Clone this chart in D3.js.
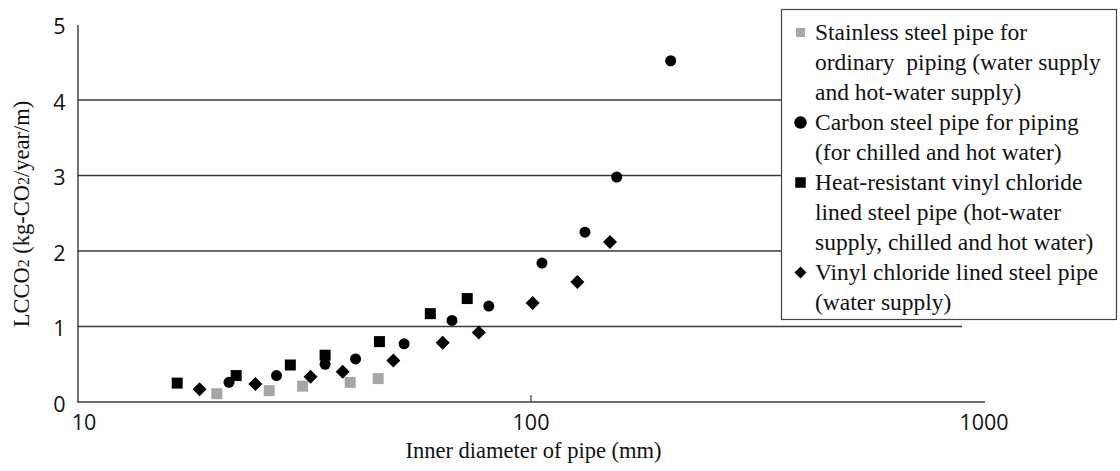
<!DOCTYPE html>
<html>
<head>
<meta charset="utf-8">
<script src="https://cdn.jsdelivr.net/npm/d3@7"></script>
<style>
  body { margin: 0; background: #fff; }
  svg { display: block; }
</style>
</head>
<body>
<div id="chart"></div>
<script>
// tick values
const xTicks = [10, 100, 1000];
const yTicks = [0, 1, 2, 3, 4, 5];

// inner diameter (mm) / LCCO2 (kg-CO2/year/m)
const stainlessDiameter = [20.3, 26.5, 31.4, 40.0, 46.1];
const stainlessLCCO2 = [0.11, 0.15, 0.21, 0.26, 0.31];

const carbonDiameter = [21.6, 27.5, 35.2, 41.1, 52.6, 67.1, 80.9, 106.0, 131.9, 155.0, 203.9];
const carbonLCCO2 = [0.26, 0.35, 0.50, 0.57, 0.77, 1.08, 1.27, 1.84, 2.25, 2.98, 4.52];

const heatDiameter = [16.6, 22.4, 29.5, 35.2, 46.4, 60.1, 72.5];
const heatLCCO2 = [0.25, 0.35, 0.49, 0.62, 0.80, 1.17, 1.37];

const vinylDiameter = [18.6, 24.7, 32.7, 38.5, 49.8, 64.0, 76.9, 101.1, 126.9, 149.8];
const vinylLCCO2 = [0.17, 0.24, 0.335, 0.40, 0.55, 0.785, 0.92, 1.31, 1.59, 2.12];

const legendLines = [
  ['Stainless steel pipe for', 'ordinary  piping (water supply', 'and hot-water supply)'],
  ['Carbon steel pipe for piping', '(for chilled and hot water)'],
  ['Heat-resistant vinyl chloride', 'lined steel pipe (hot-water', 'supply, chilled and hot water)'],
  ['Vinyl chloride lined steel pipe', '(water supply)']
];

const conf = {
  width: 1120,
  height: 471,
  margin: { top: 24.5, left: 77.5 },
  chartWidth: 906,
  chartHeight: 377.5,
  gridWidth: 884.5,
  tickFont: '"Open Sans", sans-serif',
  textFont: '"Liberation Serif", "Times New Roman", serif'
};

const series = [
  { x: stainlessDiameter, y: stainlessLCCO2, shape: 'square', color: '#a6a6a6', size: 11, legendSize: 9 },
  { x: carbonDiameter, y: carbonLCCO2, shape: 'circle', color: '#000', size: 11, legendSize: 12.5 },
  { x: heatDiameter, y: heatLCCO2, shape: 'square', color: '#000', size: 11, legendSize: 10.5 },
  { x: vinylDiameter, y: vinylLCCO2, shape: 'diamond', color: '#000', size: 14, legendSize: 12 }
];

function symbolPath(shape, size) {
  if (shape === 'circle') return d3.symbol(d3.symbolCircle, Math.PI * (size / 2) * (size / 2))();
  if (shape === 'diamond') {
    const side = size / Math.SQRT2;
    return d3.symbol(d3.symbolSquare, side * side)();
  }
  return d3.symbol(d3.symbolSquare, size * size)();
}

function symbolTransform(shape, x, y) {
  return `translate(${x},${y})` + (shape === 'diamond' ? ' rotate(45)' : '');
}

const svg = d3.select('#chart').append('svg')
  .attr('width', conf.width)
  .attr('height', conf.height);

const chartGroup = svg.append('g')
  .attr('transform', `translate(${conf.margin.left},${conf.margin.top})`);

const x = d3.scaleLog()
  .domain([10, 1000])
  .range([0, conf.chartWidth]);
const y = d3.scaleLinear()
  .domain([0, 5])
  .range([conf.chartHeight, 0]);

// gridlines
chartGroup.append('g')
  .classed('gridlines', true)
  .selectAll('line')
  .data(yTicks.filter(d => d !== 0 && d !== 5))
  .join('line')
    .attr('x1', 0)
    .attr('x2', conf.gridWidth)
    .attr('y1', d => y(d))
    .attr('y2', d => y(d))
    .style('stroke', '#3a3a3a')
    .style('stroke-width', '1.4px');

// y axis
const axisY = d3.axisLeft(y).tickValues(yTicks).tickFormat(d3.format('d')).tickSize(0).tickPadding(12);
const yAxisGroup = chartGroup.append('g').classed('axis y', true).call(axisY);
yAxisGroup.select('.domain').style('stroke', '#3a3a3a').style('stroke-width', '1.4px');
yAxisGroup.selectAll('text')
  .attr('dy', '0.42em')
  .style('font-family', conf.tickFont)
  .style('font-size', '21.5px')
  .style('fill', '#111');

// x axis
const axisX = d3.axisBottom(x).tickValues(xTicks).tickFormat(d3.format('d')).tickSizeInner(-7).tickSizeOuter(0).tickPadding(13);
const xAxisGroup = chartGroup.append('g')
  .attr('transform', `translate(0,${conf.chartHeight})`)
  .classed('axis x', true)
  .call(axisX);
xAxisGroup.select('.domain').attr('d', `M0,0H${conf.chartWidth + 1.5}`).style('stroke', '#3a3a3a').style('stroke-width', '1.4px');
xAxisGroup.selectAll('.tick line')
  .style('stroke', '#3a3a3a')
  .style('stroke-width', '1.2px')
  .style('display', d => d === 100 ? null : 'none');
xAxisGroup.selectAll('text')
  .attr('dx', d => d === 10 ? 6 : 0)
  .style('font-family', conf.tickFont)
  .style('font-size', '21.5px')
  .style('fill', '#111');

// points
series.forEach(s => {
  chartGroup.append('g')
    .selectAll('path')
    .data(s.x.map((d, i) => [d, s.y[i]]))
    .join('path')
      .attr('d', symbolPath(s.shape, s.size))
      .attr('transform', d => symbolTransform(s.shape, x(d[0]), y(d[1])))
      .style('fill', s.color);
});

// axis titles
svg.append('text')
  .attr('x', conf.margin.left + x(100) + 3)
  .attr('y', 457.5)
  .attr('text-anchor', 'middle')
  .style('font-family', conf.textFont)
  .style('font-size', '22.5px')
  .style('fill', '#111')
  .text('Inner diameter of pipe (mm)');

const yTitle = svg.append('text')
  .attr('transform', 'translate(29,214) rotate(-90)')
  .attr('text-anchor', 'middle')
  .style('font-family', conf.textFont)
  .style('font-size', '22.5px')
  .style('fill', '#111');
yTitle.append('tspan').text('LCCO');
yTitle.append('tspan').style('font-size', '16px').text('2');
yTitle.append('tspan').text(' (kg-CO');
yTitle.append('tspan').style('font-size', '16px').text('2');
yTitle.append('tspan').text('/year/m)');

// legend
const legend = svg.append('g').classed('legend', true);
legend.append('rect')
  .attr('x', 781.5)
  .attr('y', 9.5)
  .attr('width', 335)
  .attr('height', 310)
  .style('fill', '#fff')
  .style('stroke', '#444')
  .style('stroke-width', '1.2px');

let line = 0;
series.forEach((s, i) => {
  const baseline = 39.5 + line * 30;
  legend.append('path')
    .attr('d', symbolPath(s.shape, s.legendSize))
    .attr('transform', symbolTransform(s.shape, 800.5, baseline - 7))
    .style('fill', s.color);
  legendLines[i].forEach(t => {
    legend.append('text')
      .attr('x', 815)
      .attr('y', 39.5 + line * 30)
      .attr('xml:space', 'preserve')
      .style('white-space', 'pre')
      .style('font-family', conf.textFont)
      .style('font-size', '23.5px')
      .style('fill', '#111')
      .text(t);
    line++;
  });
});
</script>
</body>
</html>
